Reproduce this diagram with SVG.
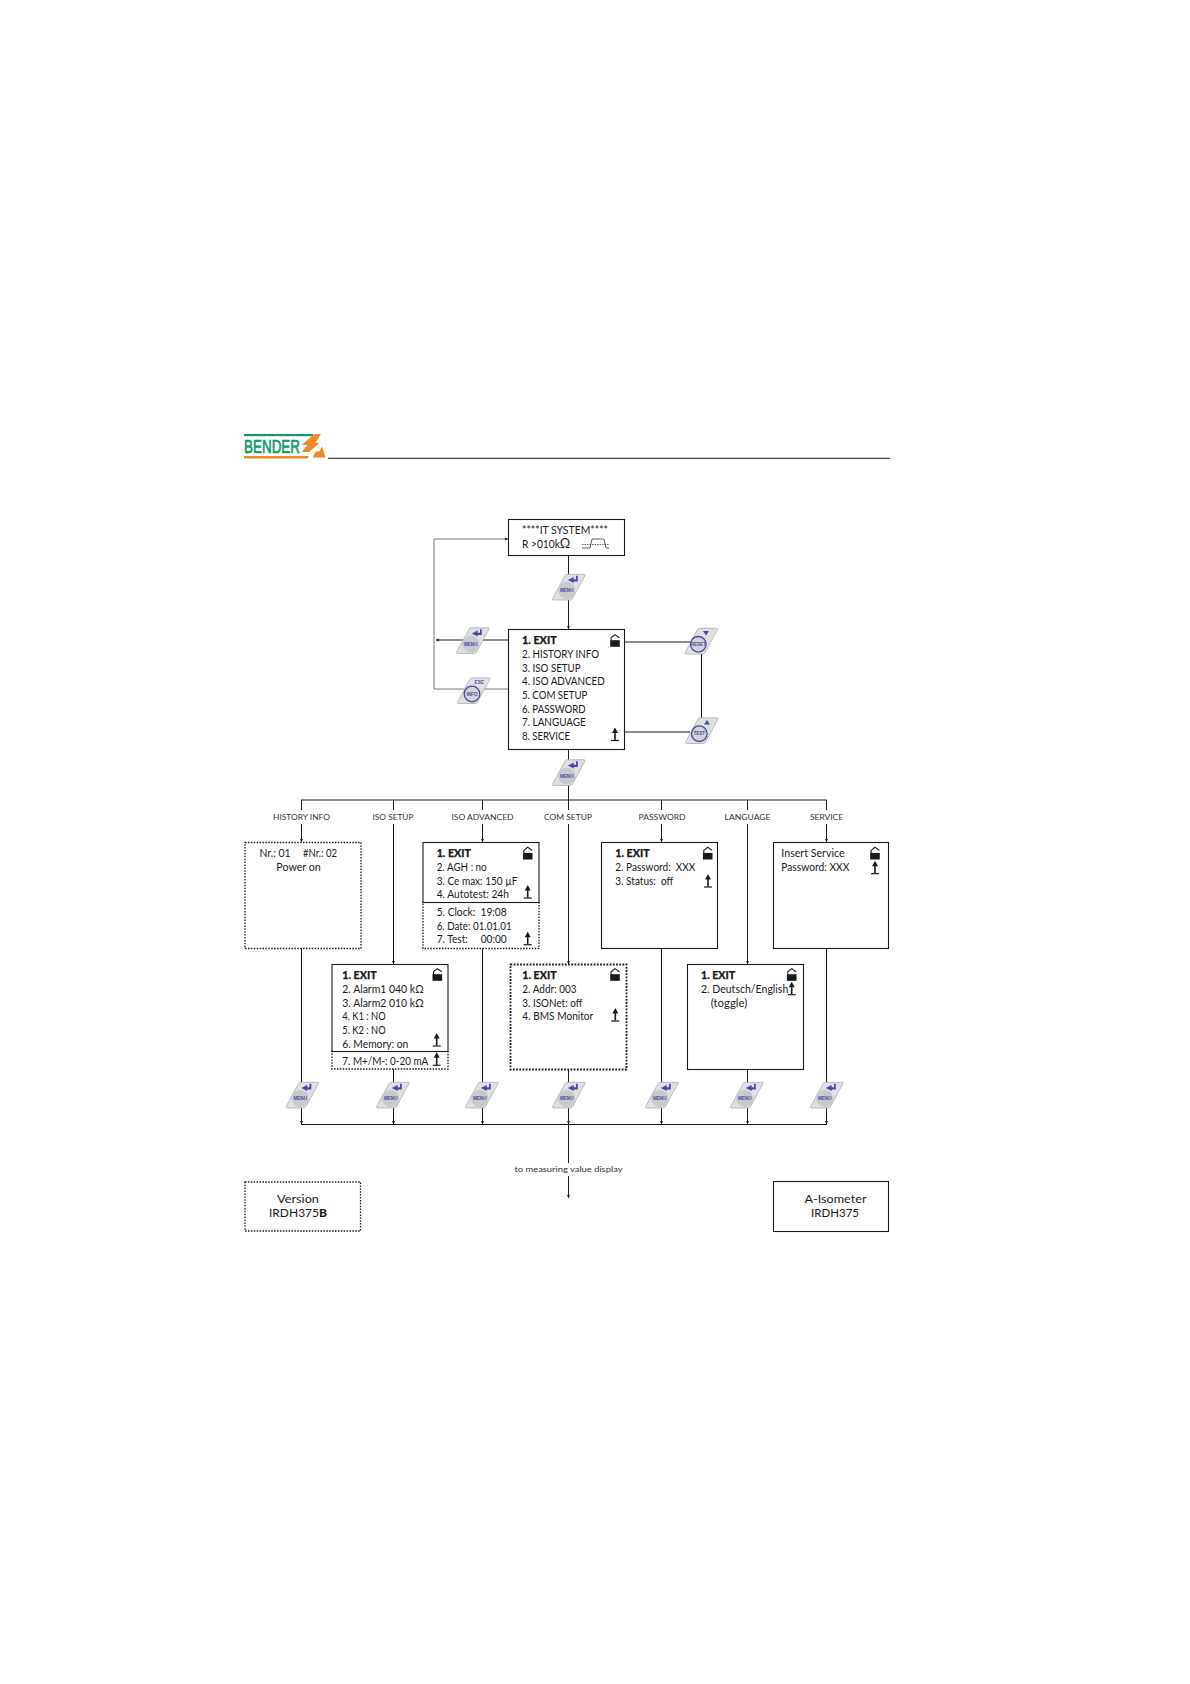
<svg xmlns="http://www.w3.org/2000/svg" width="1190" height="1684" viewBox="0 0 1190 1684">
<style>
text{font-family:"Lato","Open Sans","Liberation Sans",sans-serif;fill:#1a1a1a;white-space:pre}
.t{font-size:11px}
.b{font-size:11px;font-weight:900;stroke:#1a1a1a;stroke-width:0.25}
.h{font-size:7.5px;fill:#333}
.v{font-size:11.5px}
.k{font-family:"Liberation Sans",sans-serif;font-size:4.6px;font-weight:bold;fill:#4b4b9b;text-anchor:middle}
.c{fill:none;stroke:#1a1a1a;stroke-width:1}
.g{fill:none;stroke:#777;stroke-width:1}
.box{fill:#fff;stroke:#1a1a1a;stroke-width:1.1}
.dot{fill:#fff;stroke:#1a1a1a;stroke-width:1.3;stroke-dasharray:1.5 1.4}
.dot2{fill:#fff;stroke:#1a1a1a;stroke-width:1.8;stroke-dasharray:1.8 1.4}
</style>
<defs>
<marker id="a" markerWidth="4" markerHeight="4" refX="3.4" refY="2" orient="auto" markerUnits="userSpaceOnUse"><path d="M0 0.4L3.6 2L0 3.6z" fill="#1a1a1a"/></marker>
<g id="shape"><path d="M15 0.3H32Q33.6 0.3 33 1.6L20.5 24.6Q19.8 26 18.3 26H1.6Q0 26 0.6 24.6L13 1.6Q13.6 0.3 15 0.3z" fill="#dfe0e3" stroke="#a5a6aa" stroke-width="0.7"/></g>
<g id="enter"><path d="M15.800 6L21.700 3V5.200H24V1.700H25.800V7.400H21.700V9z" fill="#4b4b9b"/></g>
<g id="menuBtn"><use href="#shape"/><circle cx="14.7" cy="16.5" r="8.6" fill="#c8c9cc"/><use href="#enter"/></g>
<g id="ring"><circle r="7.8" fill="#d3d4d8" stroke="#4b4b9b" stroke-width="1.3"/></g>
<g id="lock"><path d="M-3.9 6.500V3.700L0 0.600L4.400 3.700" fill="none" stroke="#1a1a1a" stroke-width="1.1"/><rect x="-4.800" y="6.200" width="9.600" height="6.600" fill="#1a1a1a"/></g>
<g id="up"><path d="M0 0L3 5.500H0.800V12.600H-0.800V5.500H-3z" fill="#1a1a1a"/><path d="M-4 13H4" stroke="#1a1a1a" stroke-width="1.2"/></g>
</defs>

<g id="header">
<rect x="244" y="434" width="69" height="2.200" fill="#0f9b6c"/>
<text x="244" y="452.500" font-size="18" textLength="56" lengthAdjust="spacingAndGlyphs" stroke="#0f9b6c" stroke-width="0.7" style="font-family:'Liberation Sans',sans-serif;fill:#0f9b6c">BENDER</text>
<path d="M244 456H309L307.500 458.500H244z" fill="#f08a28"/>
<path d="M314.500 434H321L315.500 442.700H319.500L309 452H301.500L307.500 445H301.500z" fill="#f08a28"/>
<path d="M322 446.500L325.500 457.500H312.500L316 451.500H319z" fill="#f08a28"/>
<path d="M328 458.300H890" stroke="#1a1a1a" stroke-width="1"/>
</g>

<g id="connectors">
<path class="c" d="M568.500 555V629" marker-end="url(#a)"/>
<path class="c" d="M568.500 749V800"/>
<path class="c" d="M508 640H436" marker-end="url(#a)"/>
<path class="g" d="M508 689H434V539H508" marker-end="url(#a)"/>
<path class="c" d="M624 642H690"/>
<path class="c" d="M624 732H690"/>
<path class="c" d="M701.500 650V722"/>
<path class="c" d="M301 800H826.500"/>
<path class="c" d="M301.500 800V810M301.500 824V842" marker-end="url(#a)"/>
<path class="c" d="M393.500 800V810M393.500 824V964" marker-end="url(#a)"/>
<path class="c" d="M482.500 800V810M482.500 824V842" marker-end="url(#a)"/>
<path class="c" d="M568.500 800V810M568.500 824V964" marker-end="url(#a)"/>
<path class="c" d="M661.500 800V810M661.500 824V842" marker-end="url(#a)"/>
<path class="c" d="M747.500 800V810M747.500 824V964" marker-end="url(#a)"/>
<path class="c" d="M826.500 800V810M826.500 824V842" marker-end="url(#a)"/>
<path class="c" d="M301.500 948V1124" marker-end="url(#a)"/>
<path class="c" d="M393.500 1069V1124" marker-end="url(#a)"/>
<path class="c" d="M482.500 948V1124" marker-end="url(#a)"/>
<path class="c" d="M568.500 1069V1124" marker-end="url(#a)"/>
<path class="c" d="M661.500 948V1124" marker-end="url(#a)"/>
<path class="c" d="M747.500 1069V1124" marker-end="url(#a)"/>
<path class="c" d="M826.500 948V1124" marker-end="url(#a)"/>
<path class="c" d="M301 1124.500H827"/>
<path class="c" d="M568.500 1124V1163M568.500 1176V1198" marker-end="url(#a)"/>
</g>

<g id="labels">
<text class="h" x="273" y="820" textLength="57" lengthAdjust="spacingAndGlyphs">HISTORY INFO</text>
<text class="h" x="372.500" y="820" textLength="41" lengthAdjust="spacingAndGlyphs">ISO SETUP</text>
<text class="h" x="451.500" y="820" textLength="62" lengthAdjust="spacingAndGlyphs">ISO ADVANCED</text>
<text class="h" x="544" y="820" textLength="48" lengthAdjust="spacingAndGlyphs">COM SETUP</text>
<text class="h" x="638.500" y="820" textLength="47" lengthAdjust="spacingAndGlyphs">PASSWORD</text>
<text class="h" x="724.500" y="820" textLength="46" lengthAdjust="spacingAndGlyphs">LANGUAGE</text>
<text class="h" x="810" y="820" textLength="33" lengthAdjust="spacingAndGlyphs">SERVICE</text>
<text class="h" x="514.500" y="1171.500" textLength="108" lengthAdjust="spacingAndGlyphs">to measuring value display</text>
</g>

<g id="node-system">
<rect class="box" x="508.500" y="519.500" width="116" height="36"/>
<text class="t" x="522" y="534" textLength="86" lengthAdjust="spacingAndGlyphs">****IT SYSTEM****</text>
<text class="t" x="522" y="548" textLength="48.300" lengthAdjust="spacingAndGlyphs">R &gt;010k<tspan font-size="14">Ω</tspan></text>
<path d="M582 548H590L592 539H604L606 548H609" fill="none" stroke="#1a1a1a" stroke-width="0.7"/>
<path d="M582 544.500H609" fill="none" stroke="#1a1a1a" stroke-width="0.7" stroke-dasharray="1.5 1"/>
</g>
<g id="node-menu">
<rect class="box" x="508.500" y="629.500" width="116" height="120"/>
<text class="b" x="522" y="644.300" textLength="34.700" lengthAdjust="spacingAndGlyphs">1. EXIT</text>
<text class="t" x="522" y="658" textLength="77" lengthAdjust="spacingAndGlyphs">2. HISTORY INFO</text>
<text class="t" x="522" y="671.700" textLength="58.700" lengthAdjust="spacingAndGlyphs">3. ISO SETUP</text>
<text class="t" x="522" y="685.300" textLength="82.700" lengthAdjust="spacingAndGlyphs">4. ISO ADVANCED</text>
<text class="t" x="522" y="699" textLength="65.300" lengthAdjust="spacingAndGlyphs">5. COM SETUP</text>
<text class="t" x="522" y="712.700" textLength="63.700" lengthAdjust="spacingAndGlyphs">6. PASSWORD</text>
<text class="t" x="522" y="726.300" textLength="63.700" lengthAdjust="spacingAndGlyphs">7. LANGUAGE</text>
<text class="t" x="522" y="740" textLength="48" lengthAdjust="spacingAndGlyphs">8. SERVICE</text>
<use href="#lock" x="615" y="634"/><use href="#up" x="615" y="727.500"/>
</g>
<g id="node-history">
<rect class="dot" x="245" y="842.500" width="116" height="106"/>
<text class="t" x="259.500" y="857.300" textLength="31" lengthAdjust="spacingAndGlyphs">Nr.: 01</text>
<text class="t" x="303" y="857.300" textLength="34" lengthAdjust="spacingAndGlyphs">#Nr.: 02</text>
<text class="t" x="276.300" y="871" textLength="44.500" lengthAdjust="spacingAndGlyphs">Power on</text>
</g>
<g id="node-iso-advanced">
<rect class="dot" x="423" y="902" width="116" height="46.500"/>
<rect class="box" x="423" y="842.500" width="116" height="60"/>
<text class="b" x="436.700" y="857.300" textLength="34.300" lengthAdjust="spacingAndGlyphs">1. EXIT</text>
<text class="t" x="436.700" y="871" textLength="50" lengthAdjust="spacingAndGlyphs">2. AGH : no</text>
<text class="t" x="436.700" y="884.700" textLength="80.700" lengthAdjust="spacingAndGlyphs">3. Ce max: 150 µF</text>
<text class="t" x="436.700" y="898.300" textLength="72.300" lengthAdjust="spacingAndGlyphs">4. Autotest: 24h</text>
<text class="t" x="436.700" y="916" textLength="70" lengthAdjust="spacingAndGlyphs">5. Clock:  19:08</text>
<text class="t" x="436.700" y="929.700" textLength="75" lengthAdjust="spacingAndGlyphs">6. Date: 01.01.01</text>
<text class="t" x="436.700" y="943.300" textLength="70" lengthAdjust="spacingAndGlyphs">7. Test:     00:00</text>
<use href="#lock" x="527.700" y="846.700"/><use href="#up" x="527.700" y="885"/><use href="#up" x="527.700" y="931.700"/>
</g>
<g id="node-iso-setup">
<rect class="dot" x="332" y="1051" width="116" height="18"/>
<rect class="box" x="332" y="964.500" width="116" height="87"/>
<text class="b" x="342.300" y="979.300" textLength="34.300" lengthAdjust="spacingAndGlyphs">1. EXIT</text>
<text class="t" x="342.300" y="993" textLength="81.300" lengthAdjust="spacingAndGlyphs">2. Alarm1 040 kΩ</text>
<text class="t" x="342.300" y="1006.700" textLength="81.300" lengthAdjust="spacingAndGlyphs">3. Alarm2 010 kΩ</text>
<text class="t" x="342.300" y="1020.300" textLength="43.300" lengthAdjust="spacingAndGlyphs">4. K1 : NO</text>
<text class="t" x="342.300" y="1034" textLength="43.300" lengthAdjust="spacingAndGlyphs">5. K2 : NO</text>
<text class="t" x="342.300" y="1047.700" textLength="66" lengthAdjust="spacingAndGlyphs">6. Memory: on</text>
<text class="t" x="342.300" y="1065" textLength="86" lengthAdjust="spacingAndGlyphs">7. M+/M-: 0-20 mA</text>
<use href="#lock" x="437.300" y="968"/><use href="#up" x="436.700" y="1033"/><use href="#up" x="436.700" y="1052.300"/>
</g>
<g id="node-com-setup">
<rect class="dot2" x="510.500" y="964.500" width="116" height="105"/>
<text class="b" x="522.300" y="979.300" textLength="34.300" lengthAdjust="spacingAndGlyphs">1. EXIT</text>
<text class="t" x="522.300" y="993" textLength="54.300" lengthAdjust="spacingAndGlyphs">2. Addr: 003</text>
<text class="t" x="522.300" y="1006.700" textLength="60" lengthAdjust="spacingAndGlyphs">3. ISONet: off</text>
<text class="t" x="522.300" y="1020.300" textLength="71" lengthAdjust="spacingAndGlyphs">4. BMS Monitor</text>
<use href="#lock" x="615" y="968"/><use href="#up" x="615.300" y="1008"/>
</g>
<g id="node-password">
<rect class="box" x="601.500" y="842.500" width="116" height="106"/>
<text class="b" x="615.300" y="857.300" textLength="34.300" lengthAdjust="spacingAndGlyphs">1. EXIT</text>
<text class="t" x="615.300" y="871" textLength="80" lengthAdjust="spacingAndGlyphs">2. Password:  XXX</text>
<text class="t" x="615.300" y="884.700" textLength="58" lengthAdjust="spacingAndGlyphs">3. Status:  off</text>
<use href="#lock" x="707.700" y="846.700"/><use href="#up" x="708" y="874"/>
</g>
<g id="node-language">
<rect class="box" x="687.500" y="964.500" width="116" height="105"/>
<text class="b" x="701" y="979.300" textLength="34.300" lengthAdjust="spacingAndGlyphs">1. EXIT</text>
<text class="t" x="701" y="993" textLength="87.300" lengthAdjust="spacingAndGlyphs">2. Deutsch/English</text>
<text class="t" x="710.700" y="1006.700" textLength="36.700" lengthAdjust="spacingAndGlyphs">(toggle)</text>
<use href="#lock" x="791.700" y="968"/><use href="#up" x="791.700" y="981.700"/>
</g>
<g id="node-service">
<rect class="box" x="773.500" y="842.500" width="115" height="106"/>
<text class="t" x="781.300" y="857.300" textLength="63.300" lengthAdjust="spacingAndGlyphs">Insert Service</text>
<text class="t" x="781.300" y="871" textLength="68" lengthAdjust="spacingAndGlyphs">Password: XXX</text>
<use href="#lock" x="875" y="846.700"/><use href="#up" x="875" y="860.700"/>
</g>
<g id="node-version">
<rect class="dot" x="245" y="1182" width="115.500" height="49"/>
<text class="v" x="277" y="1202.500" textLength="42" lengthAdjust="spacingAndGlyphs">Version</text>
<text class="v" x="269" y="1216.500" textLength="58" lengthAdjust="spacingAndGlyphs">IRDH375<tspan font-weight="900">B</tspan></text>
</g>
<g id="node-model">
<rect class="box" x="773.500" y="1181.500" width="115" height="50"/>
<text class="v" x="804.500" y="1202.500" textLength="62" lengthAdjust="spacingAndGlyphs">A-Isometer</text>
<text class="v" x="811" y="1216.500" textLength="48" lengthAdjust="spacingAndGlyphs">IRDH375</text>
</g>

<g id="btn-top"><use href="#menuBtn" x="552" y="574"/><text class="k" x="566.700" y="592">MENU</text></g>
<g id="btn-exit"><use href="#menuBtn" x="456" y="627.500"/><text class="k" x="470.700" y="645.500">MENU</text></g>
<g id="btn-main"><use href="#menuBtn" x="552" y="759.500"/><text class="k" x="566.700" y="777.500">MENU</text></g>
<g id="btn-info"><use href="#shape" x="457" y="677.500"/><use href="#ring" x="472" y="694"/><text class="k" x="472" y="695.700">INFO</text><text class="k" x="479.300" y="683.500">ESC</text></g>
<g id="btn-reset"><use href="#shape" x="684.500" y="628"/><use href="#ring" x="698.300" y="644.300"/><path d="M703 631H709L706 635.500z" fill="#4b4b9b"/><text class="k" x="698.300" y="646">RESET</text></g>
<g id="btn-test"><use href="#shape" x="685" y="717.500"/><use href="#ring" x="699.300" y="733.700"/><path d="M704 724.500H710L707 720z" fill="#4b4b9b"/><text class="k" x="699.300" y="735.400">TEST</text></g>
<g id="btn-1"><use href="#menuBtn" x="285.500" y="1082"/><text class="k" x="300.200" y="1100">MENU</text></g>
<g id="btn-2"><use href="#menuBtn" x="376" y="1082"/><text class="k" x="390.700" y="1100">MENU</text></g>
<g id="btn-3"><use href="#menuBtn" x="465" y="1082"/><text class="k" x="479.700" y="1100">MENU</text></g>
<g id="btn-4"><use href="#menuBtn" x="552" y="1082"/><text class="k" x="566.700" y="1100">MENU</text></g>
<g id="btn-5"><use href="#menuBtn" x="645" y="1082"/><text class="k" x="659.700" y="1100">MENU</text></g>
<g id="btn-6"><use href="#menuBtn" x="730" y="1082"/><text class="k" x="744.700" y="1100">MENU</text></g>
<g id="btn-7"><use href="#menuBtn" x="810" y="1082"/><text class="k" x="824.700" y="1100">MENU</text></g>
</svg>
